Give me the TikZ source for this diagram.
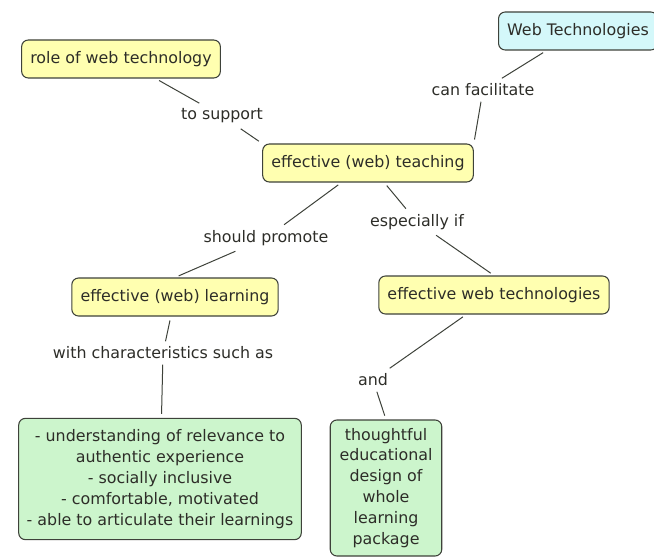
\documentclass[tikz,border=0pt]{standalone}
\usepackage{fontspec}
\setmainfont{DejaVu Sans}
\usepackage{tikz}

\definecolor{conceptyellow}{RGB}{255,255,176}
\definecolor{conceptblue}{RGB}{212,248,250}
\definecolor{conceptgreen}{RGB}{204,245,204}
\definecolor{conceptline}{RGB}{62,66,58}
\definecolor{conceptink}{RGB}{45,45,40}

\begin{document}
\begin{tikzpicture}[x=0.75pt,y=0.75pt,yscale=-1,xscale=1,
    concept/.style={draw=conceptline,line width=0.8pt,rounded corners=5pt,
        text=conceptink,inner xsep=6.5pt,minimum height=28.5pt,
        font=\fontsize{11.9}{15.7}\selectfont,align=center},
    linkword/.style={text=conceptink,inner sep=4pt,font=\fontsize{11.9}{15.7}\selectfont},
    link/.style={draw=conceptline,line width=0.75pt}]
        \useasboundingbox (0,0) rectangle (654,560);

        % Concept Nodes
        \node [concept,fill=conceptyellow] (role) at (121,59) {role of web technology};
        \node [concept,fill=conceptblue] (webtech) at (578,31) {Web Technologies};
        \node [concept,fill=conceptyellow] (teach) at (368,163) {effective (web) teaching};
        \node [concept,fill=conceptyellow] (learn) at (175,297) {effective (web) learning};
        \node [concept,fill=conceptyellow] (ewt) at (494,295) {effective web technologies};
        \node [concept,fill=conceptgreen,inner xsep=6pt,minimum height=91pt] (traits) at (160,479)
            {- understanding of relevance to\\ authentic experience\\ - socially inclusive\\ - comfortable, motivated\\ - able to articulate their learnings};
        \node [concept,fill=conceptgreen,inner xsep=7pt,minimum height=102pt] (design) at (386,488)
            {thoughtful\\ educational\\ design of\\ whole\\ learning\\ package};

        % Linking Words
        \node [linkword] (support) at (222,116) {to support};
        \node [linkword] (facil) at (483,90) {can facilitate};
        \node [linkword] (promote) at (266,238) {should promote};
        \node [linkword] (espec) at (417,222) {especially if};
        \node [linkword] (withchar) at (163,353) {with characteristics such as};
        \node [linkword] (and) at (373,380) {and};

        % Connectors
        \draw [link,shorten <=3pt] (role) -- (support);
        \draw [link,shorten >=3pt] (support) -- (teach.north west);
        \draw [link,shorten <=3pt] (webtech) -- (facil);
        \draw [link,shorten >=3pt] (facil) -- (teach.north east);
        \draw [link,shorten <=3pt] (teach) -- (promote);
        \draw [link,shorten >=3pt] (promote) -- (learn.north);
        \draw [link,shorten <=3pt] (teach) -- (espec);
        \draw [link,shorten >=3pt] (espec) -- (ewt.north);
        \draw [link,shorten <=3pt] (learn) -- (withchar);
        \draw [link,shorten >=3pt] (withchar) -- (traits);
        \draw [link,shorten <=3pt] (ewt) -- (and);
        \draw [link,shorten >=3pt] (and) -- (design.north);
\end{tikzpicture}
\end{document}
